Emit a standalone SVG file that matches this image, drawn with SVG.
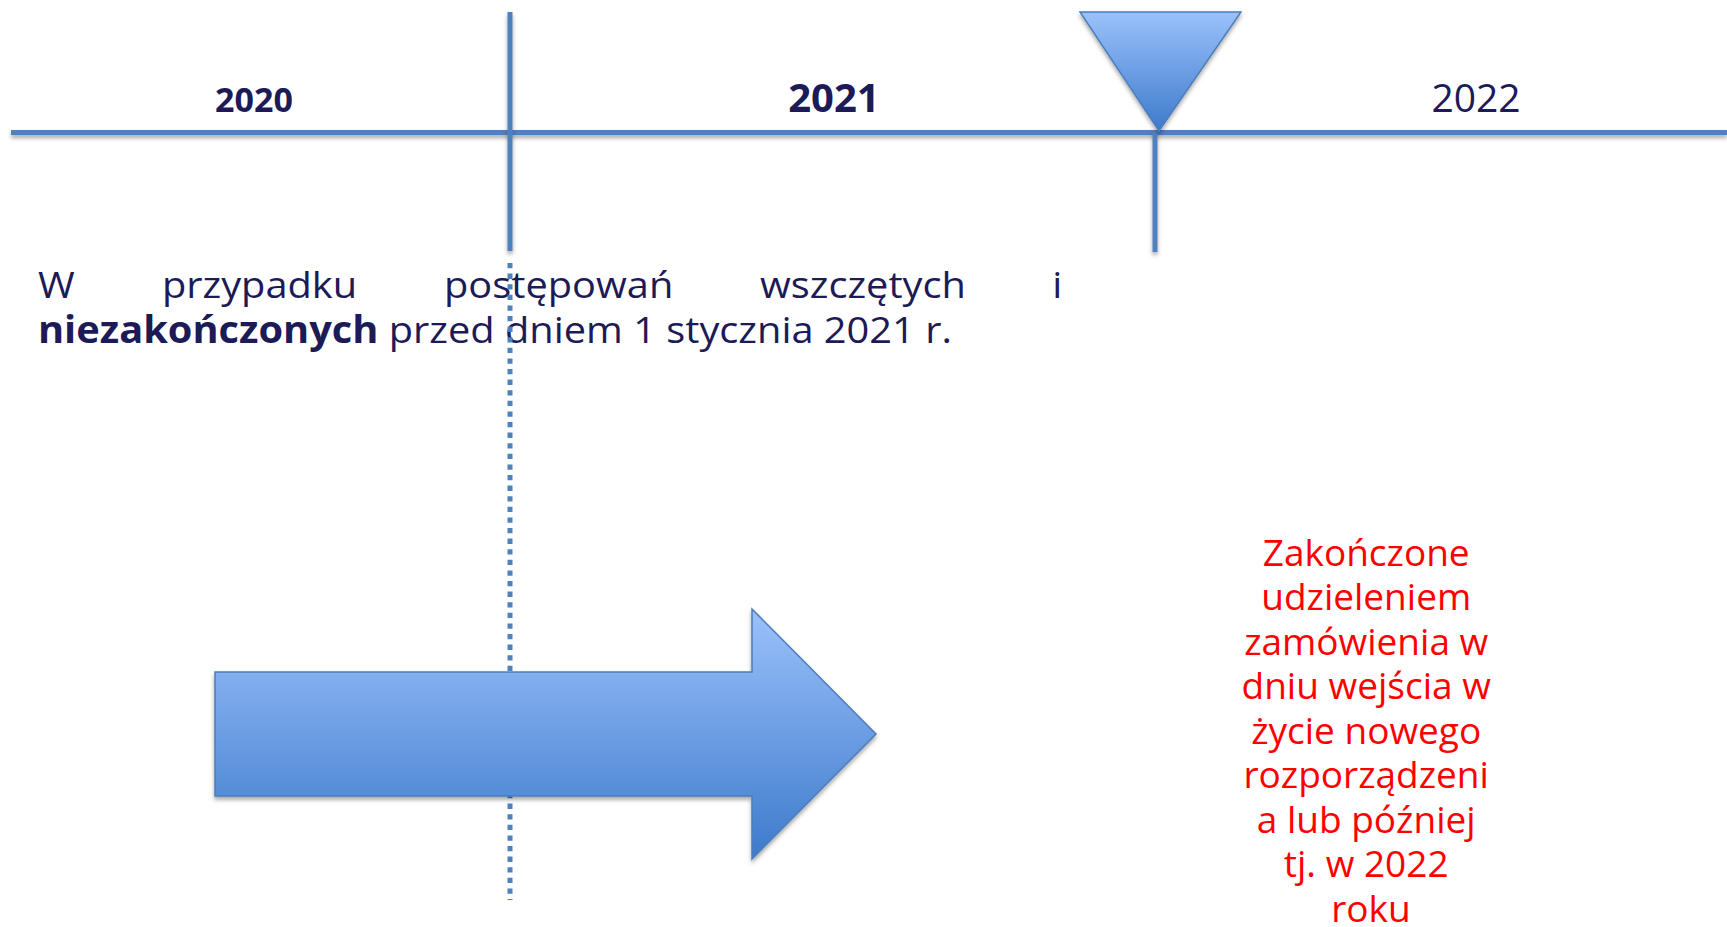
<svg xmlns="http://www.w3.org/2000/svg" width="1727" height="927" viewBox="0 0 1727 927">
  <defs>
    <linearGradient id="gradBlue" x1="0" y1="0" x2="0" y2="1">
      <stop offset="0" stop-color="#9bc1fb"/>
      <stop offset="1" stop-color="#3d7acb"/>
    </linearGradient>
    <filter id="shadow" filterUnits="userSpaceOnUse" x="0" y="0" width="1727" height="927">
      <feDropShadow dx="0" dy="3" stdDeviation="2" flood-color="#000" flood-opacity="0.35"/>
    </filter>
    <style>
      .axis { fill: #4f81bd; }
      .dotted { stroke: #4f81bd; stroke-width: 5; stroke-dasharray: 5.3 5.3; fill: none; }
      .shape { fill: url(#gradBlue); stroke: #4a7ebb; stroke-width: 1.5; }
      .year { font-family: "Open Sans", "Noto Sans", sans-serif; fill: #1c1a57; text-anchor: middle; }
      .para { font-family: "Open Sans", "Noto Sans", sans-serif; font-size: 37px; fill: #1c1a57; }
      .red { font-family: "Open Sans", "Noto Sans", sans-serif; font-size: 37px; fill: #ff0000; text-anchor: middle; }
    </style>
  </defs>
  <rect width="1727" height="927" fill="#ffffff"/>

  <g id="paragraph" transform="translate(38,0) scale(1.075,1) translate(-38,0)">
    <text class="para" y="298">
      <tspan x="38">W</tspan>
      <tspan x="153.3">przypadku</tspan>
      <tspan x="415.7">postępowań</tspan>
      <tspan x="709.6">wszczętych</tspan>
      <tspan x="981.5">i</tspan>
    </text>
    <text class="para" x="38" y="343"><tspan font-weight="bold">niezakończonych</tspan> przed dniem 1 stycznia 2021 r.</text>
  </g>

  <g id="connectors">
    <rect class="axis" x="11" y="130" width="1716" height="5" filter="url(#shadow)"/>
    <rect class="axis" x="507.5" y="12" width="5" height="239" filter="url(#shadow)"/>
    <rect class="axis" x="1152.5" y="130" width="5" height="122" filter="url(#shadow)"/>
    <line class="dotted" x1="510" y1="263" x2="510" y2="900"/>
  </g>

  <g id="marker-2022">
    <polygon class="shape" points="1080,12 1241,12 1159,131" filter="url(#shadow)"/>
  </g>

  <g id="arrow">
    <polygon class="shape" points="215,672 752,672 752,609 876,734 752,859 752,796 215,796" filter="url(#shadow)"/>
  </g>

  <g id="year-2020">
    <text class="year" x="254" y="112" font-size="34" font-weight="bold">2020</text>
  </g>
  <g id="year-2021">
    <text class="year" x="834" y="112" font-size="40" font-weight="bold">2021</text>
  </g>
  <g id="year-2022">
    <text class="year" x="1476" y="112" font-size="39">2022</text>
  </g>

  <g id="note-2022">
    <text class="red">
      <tspan x="1371" y="566">Zakończone</tspan>
      <tspan x="1371" y="610">udzieleniem</tspan>
      <tspan x="1371" y="655">zamówienia w</tspan>
      <tspan x="1371" y="699">dniu wejścia w</tspan>
      <tspan x="1371" y="744">życie nowego</tspan>
      <tspan x="1371" y="788">rozporządzeni</tspan>
      <tspan x="1371" y="833">a lub później</tspan>
      <tspan x="1371" y="877">tj. w 2022</tspan>
      <tspan x="1371" y="922">roku</tspan>
    </text>
  </g>
</svg>
